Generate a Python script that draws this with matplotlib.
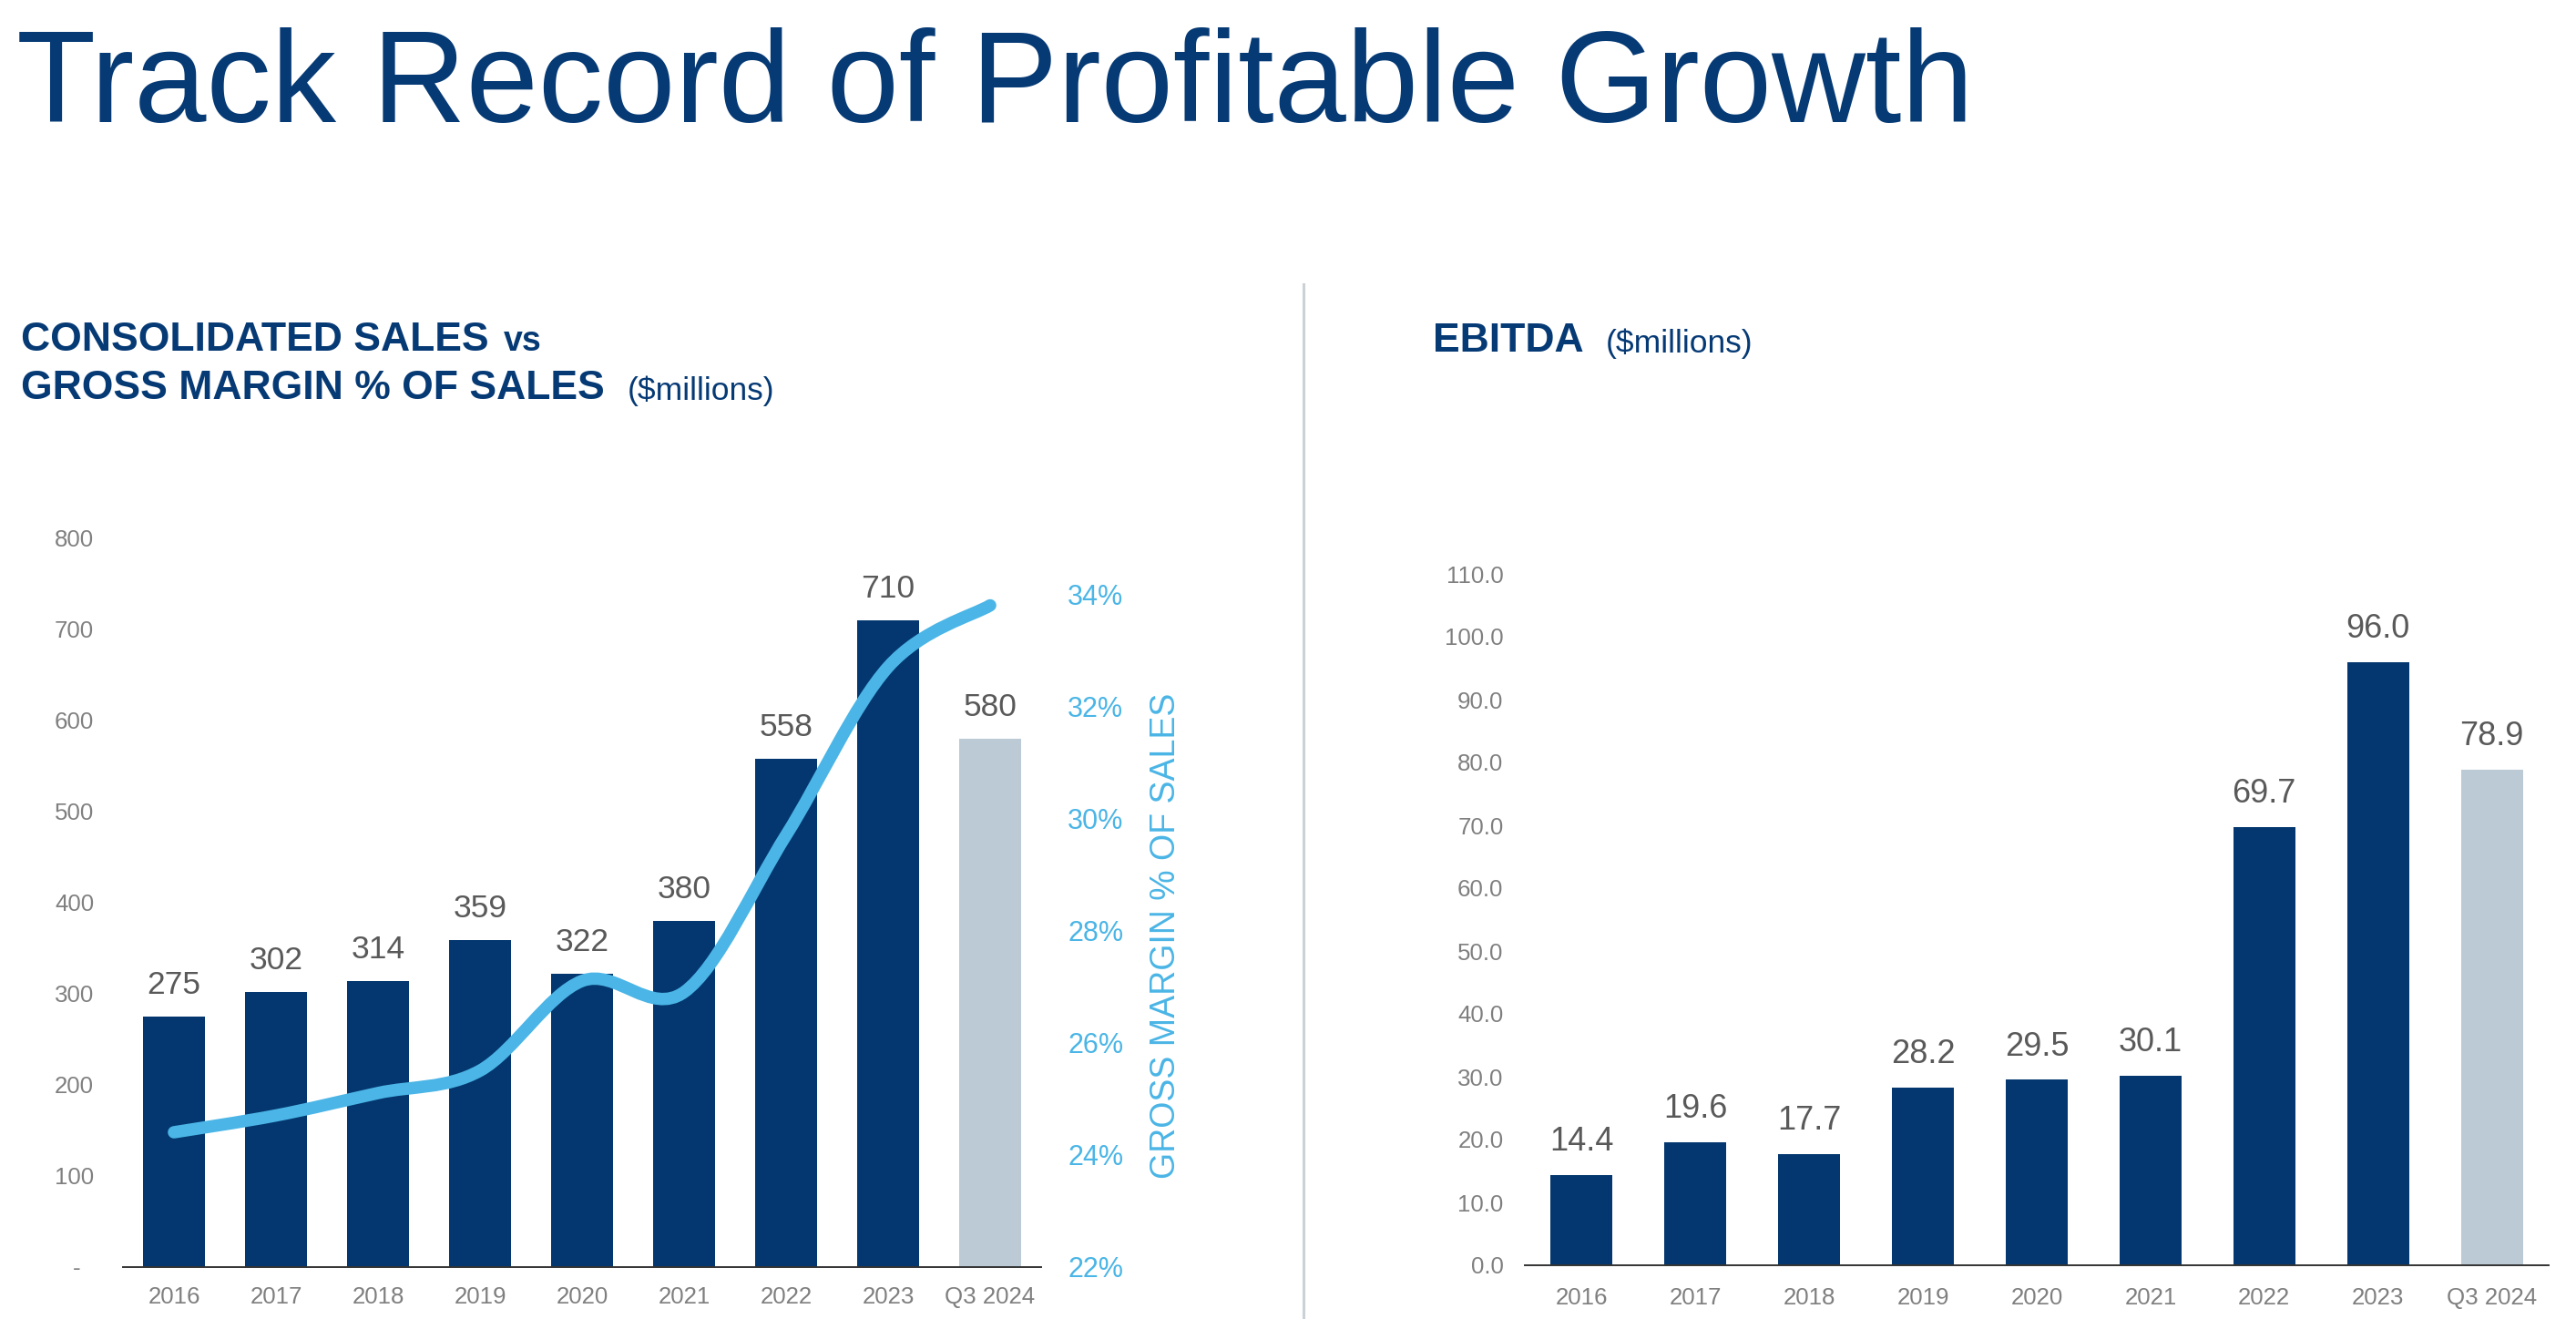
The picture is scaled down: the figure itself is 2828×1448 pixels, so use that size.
import numpy as np
import matplotlib
matplotlib.use("Agg")
import matplotlib.pyplot as plt
from matplotlib.path import Path
from matplotlib.patches import PathPatch
from matplotlib.lines import Line2D

# ---------------- data ----------------
years = ['2016', '2017', '2018', '2019', '2020', '2021', '2022', '2023', 'Q3 2024']
sales = [275, 302, 314, 359, 322, 380, 558, 710, 580]
gross_margin_pct = [24.4, 24.7, 25.1, 25.5, 27.1, 26.9, 29.7, 32.7, 33.8]
ebitda = [14.4, 19.6, 17.7, 28.2, 29.5, 30.1, 69.7, 96.0, 78.9]
sales_ticks = list(range(0, 801, 100))
pct_ticks = list(range(22, 35, 2))
ebitda_ticks = list(range(0, 111, 10))

# ---------------- style ----------------
plt.rcParams['font.family'] = ['Liberation Sans', 'DejaVu Sans']
NAVY = '#04376F'
TITLE = '#063A75'
LIGHT = '#BBCAD5'
CYAN = '#4AB5E6'
TICK = '#7F7F7F'
LABEL = '#595959'

W, H = 2828, 1448
fig = plt.figure(figsize=(W / 100, H / 100), dpi=100)
fig.patch.set_facecolor('white')


def fx(px):
    return px / W


def fy(py):
    return 1 - py / H


bar_colors = [NAVY] * (len(years) - 1) + [LIGHT]

# ---------------- titles ----------------
fig.text(fx(18), fy(134), 'Track Record of Profitable Growth', fontsize=102.6,
         color=TITLE, ha='left', va='baseline')
fig.text(fx(23), fy(385), 'CONSOLIDATED SALES', fontsize=32, fontweight='bold',
         color=TITLE, ha='left', va='baseline')
fig.text(fx(553), fy(385), 'vs', fontsize=27, fontweight='bold',
         color=TITLE, ha='left', va='baseline')
fig.text(fx(23), fy(438), 'GROSS MARGIN % OF SALES', fontsize=32, fontweight='bold',
         color=TITLE, ha='left', va='baseline')
fig.text(fx(689), fy(439), '($millions)', fontsize=25.5,
         color=TITLE, ha='left', va='baseline')
fig.text(fx(1573), fy(386), 'EBITDA', fontsize=32, fontweight='bold',
         color=TITLE, ha='left', va='baseline')
fig.text(fx(1763), fy(387), '($millions)', fontsize=25.5,
         color=TITLE, ha='left', va='baseline')

# divider
fig.add_artist(Line2D([fx(1431), fx(1431)], [fy(312), fy(1448)], color='#CCD1D6',
                      lw=2.2, transform=fig.transFigure))

# ---------------- left chart: sales + gross margin ----------------
ax1 = fig.add_axes([fx(135), fy(1390.7), fx(1143) - fx(135), fy(590.7) - fy(1390.7)])
x = np.arange(len(years))
ax1.bar(x, sales, width=0.6, color=bar_colors, zorder=2)
ax1.set_xlim(-0.5, len(years) - 0.5)
ax1.set_ylim(0, 800)
ax1.set_xticks(x)
ax1.set_xticklabels(years)
ax1.set_yticks(sales_ticks)
ax1.set_yticklabels(['-  ' if v == 0 else str(v) for v in sales_ticks])
for s in ['top', 'right', 'left']:
    ax1.spines[s].set_visible(False)
ax1.spines['bottom'].set_color('#333333')
ax1.spines['bottom'].set_linewidth(1.4)
ax1.tick_params(axis='y', length=0, pad=23, labelsize=18.6, labelcolor=TICK)
ax1.tick_params(axis='x', length=0, pad=15.5, labelsize=18.6, labelcolor=TICK)
for xi, v in zip(x, sales):
    ax1.annotate(str(v), (xi, v), xytext=(0, 18), textcoords='offset points',
                 ha='center', va='baseline', fontsize=25.5, color=LABEL)

ax2 = ax1.twinx()
ax2.set_ylim(22, 35)
ax2.set_yticks(pct_ticks)
ax2.set_yticklabels([f'{v}%' for v in pct_ticks])
for s in ['top', 'right', 'left', 'bottom']:
    ax2.spines[s].set_visible(False)
ax2.tick_params(axis='y', length=0, pad=21, labelsize=22, labelcolor=CYAN)

# smoothed line (Catmull-Rom converted to cubic Bezier segments)
px = list(x.astype(float))
py = list(gross_margin_pct)
n = len(px)
verts = [(px[0], py[0])]
codes = [Path.MOVETO]
for i in range(n - 1):
    p0 = (px[max(i - 1, 0)], py[max(i - 1, 0)])
    p1 = (px[i], py[i])
    p2 = (px[i + 1], py[i + 1])
    p3 = (px[min(i + 2, n - 1)], py[min(i + 2, n - 1)])
    c1 = (p1[0] + (p2[0] - p0[0]) / 6, p1[1] + (p2[1] - p0[1]) / 6)
    c2 = (p2[0] - (p3[0] - p1[0]) / 6, p2[1] - (p3[1] - p1[1]) / 6)
    verts += [c1, c2, p2]
    codes += [Path.CURVE4] * 3
ax2.add_patch(PathPatch(Path(verts, codes), facecolor='none', edgecolor=CYAN,
                        lw=9.8, capstyle='round', joinstyle='round', zorder=3))

ax2.set_ylabel('GROSS MARGIN % OF SALES', fontsize=27, color=CYAN, rotation=90)
ax2.yaxis.set_label_coords((1280 - 135) / (1143 - 135), (1390.7 - 1027) / 800)
ax2.yaxis.label.set_va('center')
ax2.yaxis.label.set_ha('center')

# ---------------- right chart: EBITDA ----------------
ax3 = fig.add_axes([fx(1674), fy(1389), fx(2798) - fx(1674), fy(630) - fy(1389)])
ax3.bar(x, ebitda, width=0.545, color=bar_colors, zorder=2)
ax3.set_xlim(-0.5, len(years) - 0.5)
ax3.set_ylim(0, 110)
ax3.set_xticks(x)
ax3.set_xticklabels(years)
ax3.set_yticks(ebitda_ticks)
ax3.set_yticklabels([f'{v:.1f}' for v in ebitda_ticks])
for s in ['top', 'right', 'left']:
    ax3.spines[s].set_visible(False)
ax3.spines['bottom'].set_color('#333333')
ax3.spines['bottom'].set_linewidth(1.4)
ax3.tick_params(axis='y', length=0, pad=17, labelsize=18.6, labelcolor=TICK)
ax3.tick_params(axis='x', length=0, pad=17, labelsize=18.6, labelcolor=TICK)
for xi, v in zip(x, ebitda):
    ax3.annotate(f'{v:.1f}', (xi, v), xytext=(0, 19.4), textcoords='offset points',
                 ha='center', va='baseline', fontsize=26, color=LABEL)

fig.savefig('out.png', dpi=100, facecolor='white')
